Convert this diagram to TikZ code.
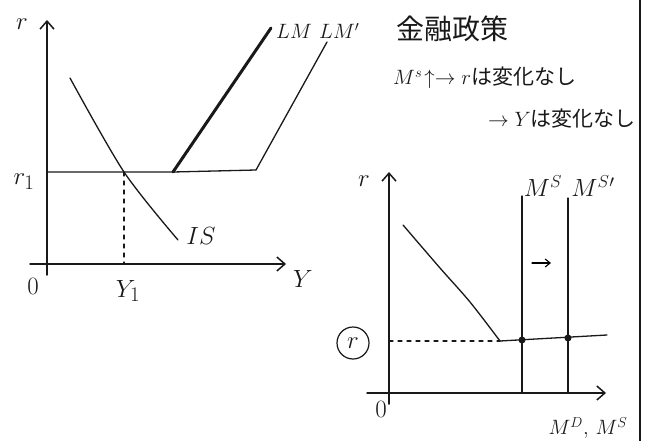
\documentclass[tikz,border=0pt]{standalone}
\usepackage{amsmath,amssymb}
\usepackage{fontspec}
\usepackage{tikz}
\usetikzlibrary{arrows.meta,positioning,calc}
\newfontfamily\jpfont{Noto Sans CJK JP}
\definecolor{ink}{RGB}{25,25,25}
\definecolor{paper}{RGB}{255,255,255}

\begin{document}
\begin{tikzpicture}[x=1pt,y=-1pt,>={Straight Barb[length=8pt,width=14pt]},line cap=round,
  every node/.style={font=\fontsize{24}{26}\selectfont,inner sep=1pt,text=ink},
  big/.style={font=\fontsize{30}{32}\selectfont},
  axis/.style={->,line width=1.5pt,draw=ink},
  curve/.style={line width=1.3pt,draw=ink},
  thickcurve/.style={line width=3pt,draw=ink},
  guide/.style={line width=1.2pt,draw=ink,dash pattern=on 4pt off 5pt},
  jp/.style={font=\fontsize{21}{23}\selectfont\jpfont}]
  \useasboundingbox[fill=paper] (0,0) rectangle (647,441);
  % left panel: IS-LM
  \coordinate (lyb) at (47,275);
  \coordinate (lyt) at (47,20);
  \coordinate (lxl) at (30,264);
  \coordinate (lxr) at (286,264);
  \draw[axis] (lyb) -- (lyt);
  \draw[axis] (lxl) -- (lxr);
  \node[big] (lr) at (22,24) {$r$};
  \node[big] (lr1) at (24,182) {$r_1$};
  \node (lo) at (33,286) {$0$};
  \node[font=\fontsize{34}{36}\selectfont] (lY) at (303,279) {$Y$};
  \node[big] (lY1) at (128,291) {$Y_1$};
  \coordinate (rflat) at (48,172);
  \coordinate (kink) at (173,172);
  \coordinate (kink2) at (256,170);
  \coordinate (lmtop) at (271,28);
  \coordinate (lm2top) at (327,42);
  \coordinate (e1) at (124,172);
  \coordinate (e1x) at (124,263);
  \draw[curve] (rflat) -- (kink) -- (kink2);
  \draw[thickcurve] (kink) -- (lmtop);
  \draw[curve] (kink2) -- (lm2top);
  \draw[curve] plot[smooth] coordinates {(70,78) (124,172) (178,240)};
  \draw[guide] (e1) -- (e1x);
  \node (is) at (201,236) {$IS$};
  \node[anchor=west,font=\fontsize{22}{24}\selectfont] (lm) at (275,31) {$LM$};
  \node[anchor=west,font=\fontsize{22}{24}\selectfont] (lm2) at (318,31) {$LM'$};
  % text
  \node[font=\fontsize{28}{30}\selectfont\jpfont] (title) at (452,29) {金融政策};
  \node[jp,anchor=west] (note1) at (392,78) {$M^s\!\uparrow\to r$は変化なし};
  \node[jp,anchor=east] (note2) at (637,119) {$\to Y$は変化なし};
  % right panel: money market
  \coordinate (ryb) at (389,404);
  \coordinate (ryt) at (389,172);
  \coordinate (rxl) at (367,393);
  \coordinate (rxr) at (606,393);
  \draw[axis] (ryb) -- (ryt);
  \draw[axis] (rxl) -- (rxr);
  \node[big] (rr) at (364,181) {$r$};
  \node (ro) at (381,409) {$0$};
  \node[font=\fontsize{22}{24}\selectfont] (rlab) at (588,428) {$M^D,\,M^S$};
  \node[draw=ink,circle,line width=1.2pt,minimum size=32pt,inner sep=0pt,big] (rc) at (353,343) {$r$};
  \coordinate (trap) at (500,341);
  \coordinate (dend) at (607,335);
  \coordinate (ms1t) at (522,196);
  \coordinate (ms1b) at (522,393);
  \coordinate (ms2t) at (568,198);
  \coordinate (ms2b) at (568,393);
  \draw[curve] plot[smooth] coordinates {(403,225) (440,268) (470,302) (500,341)} -- (dend);
  \draw[guide] (trap -| ryt) -- (trap);
  \draw[curve] (ms1t) -- (ms1b);
  \draw[curve] (ms2t) -- (ms2b);
  \fill[ink] (522,340) circle (3.5pt);
  \fill[ink] (568,338) circle (3.5pt);
  \node (ms1) at (543,186) {$M^S$};
  \node (ms2) at (593,186) {$M^{S}{}'$};
  \coordinate (shiftl) at (532,263);
  \coordinate (shiftr) at (551,263);
  \draw[->,line width=1.1pt,>={Straight Barb[length=5pt,width=8pt]}] (shiftl) -- (shiftr);
  % right border
  \coordinate (bt) at (640,0);
  \coordinate (bb) at (640,441);
  \draw[line width=2pt,draw=ink] (bt) -- (bb);
\end{tikzpicture}
\end{document}
